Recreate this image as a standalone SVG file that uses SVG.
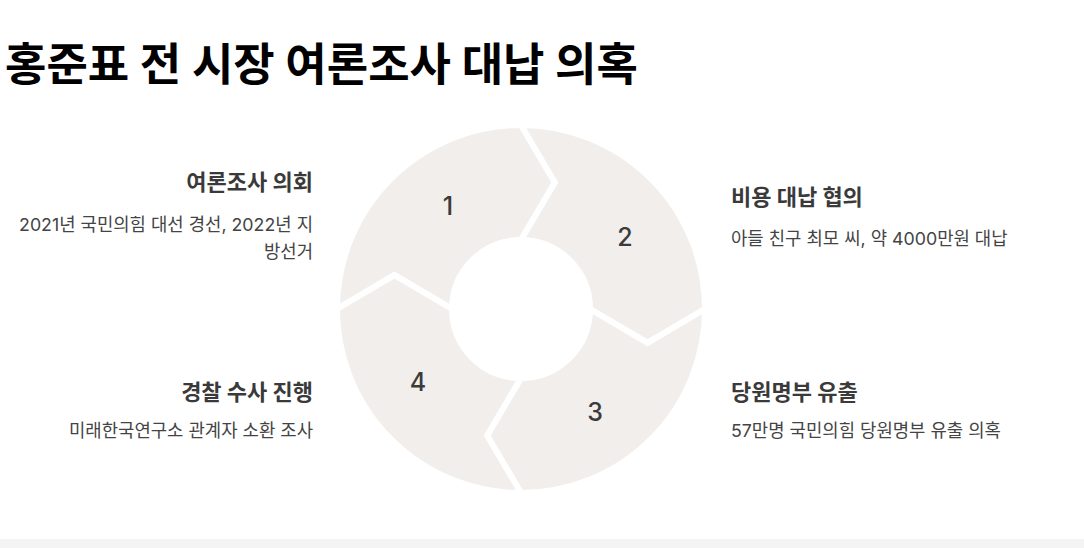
<svg xmlns="http://www.w3.org/2000/svg" width="1084" height="548" viewBox="0 0 1084 548">
  <style>
    text { font-family: Inter, "Noto Sans CJK KR", "Noto Sans", sans-serif; }
    .title { font-size: 45px; font-weight: 700; fill: #000; }
    .seg { fill: #f1eeec; stroke: #ffffff; stroke-width: 6; stroke-linejoin: miter; }
    .num { font-size: 25px; font-weight: 500; fill: #3b3b3b; text-anchor: middle; }
    .head { font-size: 22px; font-weight: 700; fill: #3a3a3a; }
    .desc { font-size: 17.8px; font-weight: 400; fill: #444444; }
    .l { text-anchor: end; }
    .r { text-anchor: start; }
  </style>
  <rect x="0" y="0" width="1084" height="548" fill="#ffffff"/>
  <rect x="0" y="539" width="1084" height="9" fill="#f4f4f4"/>

  <text class="title" x="5" y="81">홍준표 전 시장 여론조사 대납 의혹</text>

  <g id="connectors"></g>

  <g id="node1">
    <path class="seg" d="M337,309 A184,184 0 0 1 521,125 L554.9,182.5 L521,240 A69,69 0 0 0 452,309 L394.5,275.1 Z"/>
    <text class="num" x="448" y="215">1</text>
    <text class="head l" x="313" y="190">여론조사 의회</text>
    <text class="desc l" x="313" y="231">2021년 국민의힘 대선 경선, 2022년 지</text>
    <text class="desc l" x="313" y="258">방선거</text>
  </g>

  <g id="node2">
    <path class="seg" d="M521,125 A184,184 0 0 1 705,309 L647.5,342.9 L590,309 A69,69 0 0 0 521,240 L554.9,182.5 Z"/>
    <text class="num" x="625" y="246">2</text>
    <text class="head r" x="731" y="205">비용 대납 협의</text>
    <text class="desc r" x="731" y="245">아들 친구 최모 씨, 약 4000만원 대납</text>
  </g>

  <g id="node3">
    <path class="seg" d="M705,309 A184,184 0 0 1 521,493 L487.1,435.5 L521,378 A69,69 0 0 0 590,309 L647.5,342.9 Z"/>
    <text class="num" x="595" y="421">3</text>
    <text class="head r" x="731" y="400">당원명부 유출</text>
    <text class="desc r" x="731" y="437">57만명 국민의힘 당원명부 유출 의혹</text>
  </g>

  <g id="node4">
    <path class="seg" d="M521,493 A184,184 0 0 1 337,309 L394.5,275.1 L452,309 A69,69 0 0 0 521,378 L487.1,435.5 Z"/>
    <text class="num" x="418" y="391">4</text>
    <text class="head l" x="313" y="400">경찰 수사 진행</text>
    <text class="desc l" x="313" y="437">미래한국연구소 관계자 소환 조사</text>
  </g>
</svg>
